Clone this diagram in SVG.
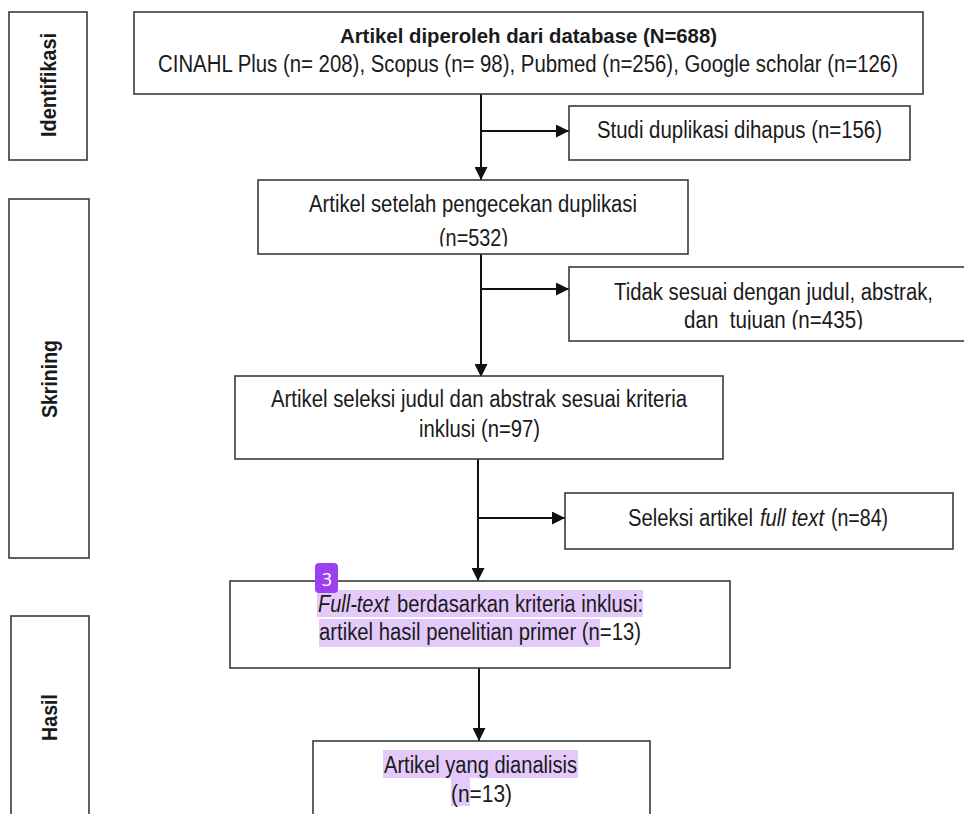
<svg xmlns="http://www.w3.org/2000/svg" width="964" height="814" viewBox="0 0 964 814">
<style>
.box{fill:#fff;stroke:#3a3a3a;stroke-width:1.6}
.t{font-family:"Liberation Sans",Arial,sans-serif;font-size:23px;fill:#1a1a1a}
.b{font-weight:bold;font-size:21px}
.lab{font-family:"Liberation Sans",Arial,sans-serif;font-size:22px;font-weight:bold;fill:#1a1a1a}
.i{font-style:italic}
.hl{fill:#e4cafb}
.con{stroke:#111;stroke-width:2;fill:none}
</style>
<defs>
<marker id="ah" viewBox="0 0 12 12" refX="12" refY="6" markerWidth="13" markerHeight="13" markerUnits="userSpaceOnUse" orient="auto">
<path d="M0,0 L12,6 L0,12 z" fill="#111"/>
</marker>
<clipPath id="c532"><rect x="400" y="220" width="150" height="26.5"/></clipPath>
<clipPath id="c435"><rect x="600" y="305" width="350" height="24.5"/></clipPath>
</defs>

<g id="lab-identifikasi">
<rect class="box" x="9" y="12" width="78" height="148"/>
<text class="lab" transform="translate(56,137) rotate(-90)" textLength="104" lengthAdjust="spacingAndGlyphs">Identifikasi</text>
</g>
<g id="lab-skrining">
<rect class="box" x="9" y="199" width="80" height="359"/>
<text class="lab" transform="translate(57,418) rotate(-90)" textLength="78" lengthAdjust="spacingAndGlyphs">Skrining</text>
</g>
<g id="lab-hasil">
<rect class="box" x="11" y="616" width="78" height="220"/>
<text class="lab" transform="translate(57,741) rotate(-90)" textLength="47" lengthAdjust="spacingAndGlyphs">Hasil</text>
</g>

<g id="connectors">
<line class="con" x1="481" y1="94" x2="481" y2="180" marker-end="url(#ah)"/>
<line class="con" x1="481" y1="131" x2="569" y2="131" marker-end="url(#ah)"/>
<line class="con" x1="481" y1="254" x2="481" y2="377" marker-end="url(#ah)"/>
<line class="con" x1="481" y1="289" x2="569" y2="289" marker-end="url(#ah)"/>
<line class="con" x1="478" y1="459" x2="478" y2="581" marker-end="url(#ah)"/>
<line class="con" x1="478" y1="518" x2="565" y2="518" marker-end="url(#ah)"/>
<line class="con" x1="479" y1="668" x2="479" y2="741" marker-end="url(#ah)"/>
</g>

<g id="n-database">
<rect class="box" x="134" y="12" width="789" height="82"/>
<text class="t b" x="340" y="43" textLength="377" lengthAdjust="spacingAndGlyphs">Artikel diperoleh dari database (N=688)</text>
<text class="t" x="158" y="72" textLength="740" lengthAdjust="spacingAndGlyphs">CINAHL Plus (n= 208), Scopus (n= 98), Pubmed (n=256), Google scholar (n=126)</text>
</g>

<g id="n-duplikasi">
<rect class="box" x="569" y="106" width="341" height="54"/>
<text class="t" x="597" y="138" textLength="285" lengthAdjust="spacingAndGlyphs">Studi duplikasi dihapus (n=156)</text>
</g>

<g id="n-setelah">
<rect class="box" x="258" y="180" width="430" height="74"/>
<text class="t" x="309" y="212" textLength="328" lengthAdjust="spacingAndGlyphs">Artikel setelah pengecekan duplikasi</text>
<text class="t" x="439" y="246" textLength="69" lengthAdjust="spacingAndGlyphs" clip-path="url(#c532)">(n=532)</text>
</g>

<g id="n-tidak">
<rect class="box" x="569" y="267" width="420" height="74"/>
<text class="t" x="614" y="300" textLength="319" lengthAdjust="spacingAndGlyphs">Tidak sesuai dengan judul, abstrak,</text>
<text class="t" x="684" y="328" textLength="179" lengthAdjust="spacingAndGlyphs" clip-path="url(#c435)">dan&#160; tujuan (n=435)</text>
</g>

<g id="n-seleksi-judul">
<rect class="box" x="235" y="376" width="488" height="83"/>
<text class="t" x="271" y="407" textLength="416" lengthAdjust="spacingAndGlyphs">Artikel seleksi judul dan abstrak sesuai kriteria</text>
<text class="t" x="419" y="437" textLength="121" lengthAdjust="spacingAndGlyphs">inklusi (n=97)</text>
</g>

<g id="n-fulltext-excl">
<rect class="box" x="565" y="493" width="388" height="56"/>
<text class="t" x="628" y="526" textLength="125" lengthAdjust="spacingAndGlyphs">Seleksi artikel</text>
<text class="t i" x="760" y="526" textLength="64" lengthAdjust="spacingAndGlyphs">full text</text>
<text class="t" x="831" y="526" textLength="57" lengthAdjust="spacingAndGlyphs">(n=84)</text>
</g>

<g id="n-fulltext-incl">
<rect class="box" x="230" y="581" width="500" height="87"/>
<rect class="hl" x="317" y="590" width="326" height="27"/>
<rect class="hl" x="319" y="619" width="281" height="28"/>
<text class="t i" x="318" y="612" textLength="71" lengthAdjust="spacingAndGlyphs">Full-text</text>
<text class="t" x="397" y="612" textLength="246" lengthAdjust="spacingAndGlyphs">berdasarkan kriteria inklusi:</text>
<text class="t" x="319" y="640" textLength="322" lengthAdjust="spacingAndGlyphs">artikel hasil penelitian primer (n=13)</text>
<rect x="315" y="563" width="23" height="30" rx="4" fill="#9b3ff0"/>
<text x="327" y="586" text-anchor="middle" font-family="'Noto Sans',sans-serif" font-size="18" fill="#fff">3</text>
</g>

<g id="n-dianalisis">
<rect class="box" x="313" y="741" width="337" height="100"/>
<rect class="hl" x="383" y="750" width="195" height="28"/>
<rect class="hl" x="451" y="778" width="19" height="28"/>
<text class="t" x="384" y="773" textLength="193" lengthAdjust="spacingAndGlyphs">Artikel yang dianalisis</text>
<text class="t" x="451" y="802" textLength="61" lengthAdjust="spacingAndGlyphs">(n=13)</text>
</g>
</svg>
